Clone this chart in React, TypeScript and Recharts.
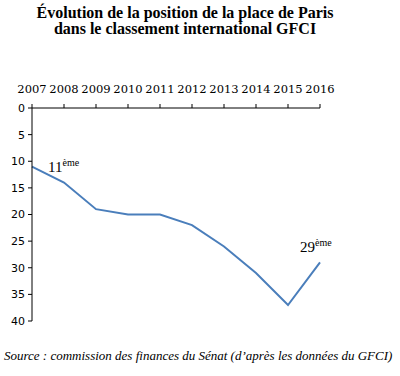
import React from "react";
import { LineChart, Line, XAxis, YAxis, LabelList } from "recharts";

const years = ["2007", "2008", "2009", "2010", "2011", "2012", "2013", "2014", "2015", "2016"];
const ranks = [11, 14, 19, 20, 20, 22, 26, 31, 37, 29];
const rankTicks = [0, 5, 10, 15, 20, 25, 30, 35, 40];
const annotations: Record<number, string> = { 0: "11", 9: "29" };

const data = years.map((y, i) => ({ year: y, rank: ranks[i] }));

const AnnLabel = (props: any) => {
  const { x, y, index } = props;
  const txt = annotations[index];
  if (!txt) return null;
  const dx = index === 0 ? 16 : -20;
  const dy = index === 0 ? 5 : -10;
  return (
    <text x={x + dx} y={y + dy} fontFamily="Liberation Serif, serif" fontSize={15} fill="#000">
      {txt}
      <tspan fontSize={10} dy={-6}>ème</tspan>
    </text>
  );
};

const titleStyle: React.CSSProperties = {
  position: "absolute",
  left: 10,
  width: 350,
  textAlign: "center",
  fontFamily: "Liberation Serif, serif",
  fontWeight: "bold",
  fontSize: 16,
  lineHeight: "16px",
  color: "#000",
  whiteSpace: "nowrap",
};

export default function App() {
  return (
    <div style={{ position: "absolute", left: 0, top: 0, width: 400, height: 376, background: "#fff" }}>
      <div style={{ ...titleStyle, top: 5 }}>Évolution de la position de la place de Paris</div>
      <div style={{ ...titleStyle, top: 21 }}>dans le classement international GFCI</div>
      <LineChart
        width={400}
        height={376}
        data={data}
        margin={{ top: 88, right: 80, bottom: 55, left: 0 }}
      >
        <XAxis
          dataKey="year"
          orientation="top"
          height={20}
          stroke="#000"
          tickLine={{ stroke: "#000" }}
          tickSize={4}
          tickMargin={11}
          interval={0}
          tick={{ fill: "#000", fontSize: 11.5, fontFamily: "DejaVu Serif, serif" }}
        />
        <YAxis
          type="number"
          domain={[0, 40]}
          ticks={rankTicks}
          reversed
          width={32}
          stroke="#000"
          tickSize={4}
          tickMargin={3}
          interval={0}
          tick={{ fill: "#000", fontSize: 11, fontFamily: "DejaVu Sans, sans-serif" }}
        />
        <Line
          type="linear"
          dataKey="rank"
          stroke="#4a7ebb"
          strokeWidth={2}
          dot={false}
          isAnimationActive={false}
        >
          <LabelList dataKey="rank" content={<AnnLabel />} />
        </Line>
      </LineChart>
      <div
        style={{
          position: "absolute",
          left: 4,
          top: 348,
          fontFamily: "Liberation Serif, serif",
          fontStyle: "italic",
          fontSize: 13,
          color: "#000",
          whiteSpace: "nowrap",
        }}
      >
        Source : commission des finances du Sénat (d’après les données du GFCI)
      </div>
    </div>
  );
}
